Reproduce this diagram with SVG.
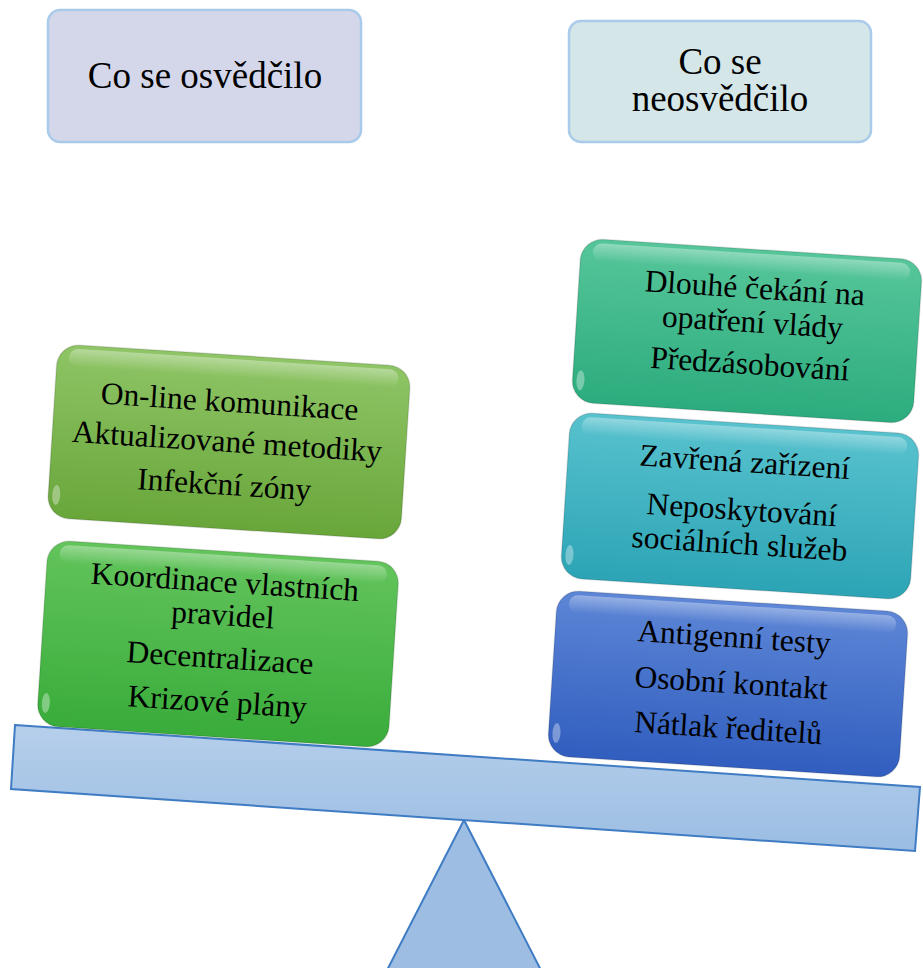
<svg xmlns="http://www.w3.org/2000/svg" width="923" height="968" viewBox="0 0 923 968">
<defs>
<linearGradient id="gOlive" x1="0" y1="0" x2="0" y2="1"><stop offset="0" stop-color="#8fc566"/><stop offset="1" stop-color="#68a63a"/></linearGradient>
<linearGradient id="gGreen" x1="0" y1="0" x2="0" y2="1"><stop offset="0" stop-color="#63c45c"/><stop offset="1" stop-color="#39ac3b"/></linearGradient>
<linearGradient id="gTeal" x1="0" y1="0" x2="0" y2="1"><stop offset="0" stop-color="#56c69a"/><stop offset="1" stop-color="#2cac7e"/></linearGradient>
<linearGradient id="gCyan" x1="0" y1="0" x2="0" y2="1"><stop offset="0" stop-color="#58c2ce"/><stop offset="1" stop-color="#2ca4b5"/></linearGradient>
<linearGradient id="gBlue" x1="0" y1="0" x2="0" y2="1"><stop offset="0" stop-color="#5d86d6"/><stop offset="1" stop-color="#315ebf"/></linearGradient>
<linearGradient id="gBeam" x1="0" y1="0" x2="0" y2="1"><stop offset="0" stop-color="#b6cfeb"/><stop offset="1" stop-color="#9bbde3"/></linearGradient>
<linearGradient id="gHi" x1="0" y1="0" x2="0" y2="1"><stop offset="0" stop-color="#ffffff" stop-opacity="0.35"/><stop offset="1" stop-color="#ffffff" stop-opacity="0"/></linearGradient>
</defs>
<style>
.hdr{stroke:#a9caea;stroke-width:2.5}
.hdrtxt{font-family:"Liberation Serif","Times New Roman",serif;font-size:37px;fill:#000;text-anchor:middle}
.txt{font-family:"Liberation Serif","Times New Roman",serif;font-size:31.5px;fill:#000;text-anchor:middle}
.hi{fill:url(#gHi)}
.glint{fill:#ffffff;opacity:0.35}
.edge{fill:none;stroke:#000;stroke-opacity:0.12;stroke-width:1.5}
.scale{stroke:#3f7cc3;stroke-width:2;stroke-linejoin:miter}
</style>

<g id="scale">
<polygon class="scale" points="464,820 383,978 545,978" fill="#9dbde3"/>
<polygon class="scale" points="15,725 920,787 915,851 11,789" fill="url(#gBeam)"/>
</g>

<g id="hdr-left">
<rect class="hdr" x="48" y="10" width="313" height="132" rx="12" fill="#d4d7ea"/>
<text class="hdrtxt" x="205" y="88">Co se osvědčilo</text>
</g>
<g id="hdr-right">
<rect class="hdr" x="569" y="21" width="302" height="121" rx="12" fill="#d4e6e7"/>
<text class="hdrtxt" x="720" y="74">Co se</text>
<text class="hdrtxt" x="720" y="111">neosvědčilo</text>
</g>

<g id="box-left-top" transform="translate(229,442) rotate(3.7)">
<rect x="-177" y="-87" width="354" height="174" rx="22" fill="url(#gOlive)"/>
<rect x="-177" y="-87" width="354" height="174" rx="22" class="edge"/>
<rect x="-165" y="-83" width="330" height="18" rx="9" class="hi"/>
<ellipse cx="-169" cy="64" rx="4" ry="10" class="glint"/>
<text class="txt" x="-2" y="-30">On-line komunikace</text>
<text class="txt" x="-2" y="10">Aktualizované metodiky</text>
<text class="txt" x="-2" y="53">Infekční zóny</text>
</g>

<g id="box-left-bottom" transform="translate(218,644) rotate(3.7)">
<rect x="-176" y="-93" width="352" height="186" rx="22" fill="url(#gGreen)"/>
<rect x="-176" y="-93" width="352" height="186" rx="22" class="edge"/>
<rect x="-164" y="-89" width="328" height="18" rx="9" class="hi"/>
<ellipse cx="-168" cy="70" rx="4" ry="10" class="glint"/>
<text class="txt" x="3" y="-52">Koordinace vlastních</text>
<text class="txt" x="3" y="-19">pravidel</text>
<text class="txt" x="3" y="24">Decentralizace</text>
<text class="txt" x="3" y="68">Krizové plány</text>
</g>

<g id="box-right-top" transform="translate(747,331) rotate(3.7)">
<rect x="-171" y="-82" width="342" height="164" rx="22" fill="url(#gTeal)"/>
<rect x="-171" y="-82" width="342" height="164" rx="22" class="edge"/>
<rect x="-159" y="-78" width="318" height="18" rx="9" class="hi"/>
<ellipse cx="-163" cy="60" rx="4" ry="10" class="glint"/>
<text class="txt" x="5" y="-33">Dlouhé čekání na</text>
<text class="txt" x="5" y="1">opatření vlády</text>
<text class="txt" x="5" y="43">Předzásobování</text>
</g>

<g id="box-right-middle" transform="translate(740,506) rotate(3.7)">
<rect x="-175" y="-83" width="350" height="166" rx="22" fill="url(#gCyan)"/>
<rect x="-175" y="-83" width="350" height="166" rx="22" class="edge"/>
<rect x="-163" y="-79" width="326" height="18" rx="9" class="hi"/>
<ellipse cx="-167" cy="60" rx="4" ry="10" class="glint"/>
<text class="txt" x="2" y="-34">Zavřená zařízení</text>
<text class="txt" x="2" y="14">Neposkytování</text>
<text class="txt" x="2" y="48">sociálních služeb</text>
</g>

<g id="box-right-bottom" transform="translate(728,684) rotate(3.7)">
<rect x="-176" y="-83" width="352" height="166" rx="22" fill="url(#gBlue)"/>
<rect x="-176" y="-83" width="352" height="166" rx="22" class="edge"/>
<rect x="-164" y="-79" width="328" height="18" rx="9" class="hi"/>
<ellipse cx="-168" cy="60" rx="4" ry="10" class="glint"/>
<text class="txt" x="3" y="-37">Antigenní testy</text>
<text class="txt" x="3" y="9">Osobní kontakt</text>
<text class="txt" x="3" y="54">Nátlak ředitelů</text>
</g>
</svg>
